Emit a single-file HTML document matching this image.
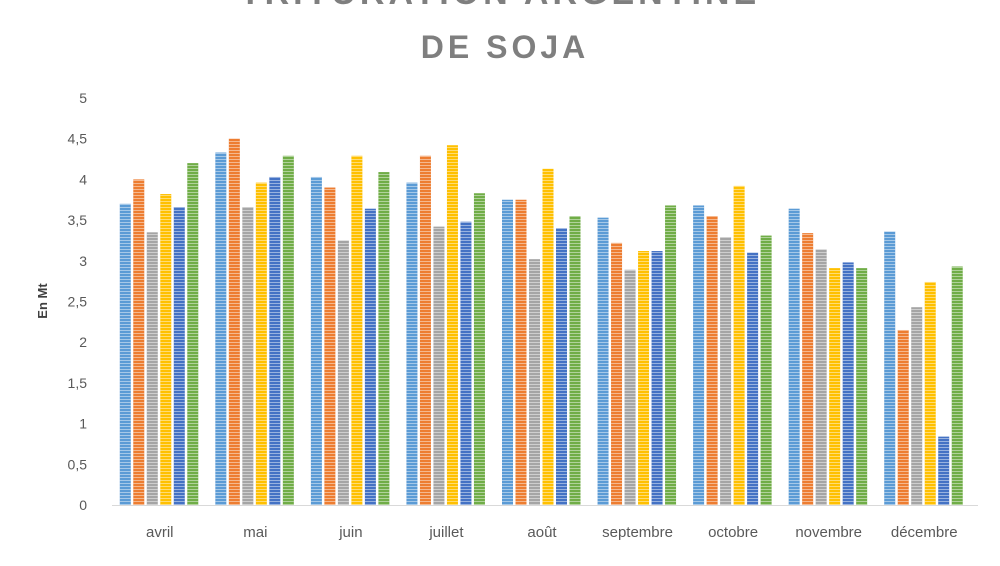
<!DOCTYPE html>
<html><head><meta charset="utf-8"><style>
body{margin:0;background:#fff;width:1000px;height:561px;overflow:hidden;font-family:"Liberation Sans",sans-serif}
</style></head><body>
<svg width="1000" height="561">
<defs>
<pattern id="st" width="4" height="3" patternUnits="userSpaceOnUse"><rect width="4" height="1" fill="#fff" opacity="0.45"/></pattern>
</defs>
<text x="500" y="4" text-anchor="middle" font-size="34" font-weight="bold" fill="#7f7f7f" letter-spacing="4">TRITURATION ARGENTINE</text>
<text x="505" y="58" text-anchor="middle" font-size="32" font-weight="bold" fill="#7f7f7f" letter-spacing="4">DE SOJA</text>
<text x="47" y="301" transform="rotate(-90 47 301)" text-anchor="middle" font-size="13" font-weight="bold" fill="#404040">En Mt</text>
<g id="axes"></g>
<g id="bars"></g>
</svg>
<script>
const categories=["avril","mai","juin","juillet","août","septembre","octobre","novembre","décembre"];
const s1=[3.7,4.33,4.03,3.96,3.75,3.53,3.68,3.64,3.36];
const s2=[4.0,4.5,3.9,4.29,3.75,3.22,3.55,3.34,2.15];
const s3=[3.35,3.66,3.25,3.42,3.02,2.89,3.29,3.14,2.43];
const s4=[3.82,3.96,4.29,4.42,4.13,3.12,3.92,2.91,2.74];
const s5=[3.66,4.03,3.64,3.48,3.4,3.12,3.1,2.98,0.84];
const s6=[4.2,4.29,4.09,3.83,3.55,3.68,3.31,2.91,2.93];
const yTicks=["0","0,5","1","1,5","2","2,5","3","3,5","4","4,5","5"];
const series=[s1,s2,s3,s4,s5,s6];
const colors=["#5b9bd5","#ed7d31","#a5a5a5","#ffc000","#4472c4","#70ad47"];
const NS="http://www.w3.org/2000/svg";
const x0=112,x1=972,y0=505,y1=98,ymax=5;
const y=v=>y0-(v/ymax)*(y0-y1);
const bw=(x1-x0)/categories.length;
const ax=document.getElementById('axes'),bg=document.getElementById('bars');
yTicks.forEach((t,i)=>{const e=document.createElementNS(NS,'text');


e.setAttribute('x',87);e.setAttribute('y',y(i*0.5)+5);e.setAttribute('text-anchor','end');e.setAttribute('font-size','14');e.setAttribute('fill','#595959');e.textContent=t;ax.appendChild(e);});
const ln=document.createElementNS(NS,'line');


ln.setAttribute('x1',x0);ln.setAttribute('x2',x1+6);ln.setAttribute('y1',y0+0.5);ln.setAttribute('y2',y0+0.5);ln.setAttribute('stroke','#d9d9d9');ax.appendChild(ln);
categories.forEach((c,i)=>{const cx=x0+bw*(i+0.5);
const e=document.createElementNS(NS,'text');


e.setAttribute('x',cx);e.setAttribute('y',537);e.setAttribute('text-anchor','middle');e.setAttribute('font-size','15');e.setAttribute('fill','#595959');e.textContent=c;ax.appendChild(e);
series.forEach((s,k)=>{const bx=cx-40+k*13.5;
const r=document.createElementNS(NS,'rect');


r.setAttribute('x',bx);r.setAttribute('y',y(s[i]));r.setAttribute('width',11);r.setAttribute('height',y0-y(s[i]));r.setAttribute('fill',colors[k]);bg.appendChild(r);
const p=document.createElementNS(NS,'rect');


p.setAttribute('x',bx);p.setAttribute('y',y(s[i]));p.setAttribute('width',11);p.setAttribute('height',y0-y(s[i]));p.setAttribute('fill','url(#st)');bg.appendChild(p);});});
</script>
</body></html>
